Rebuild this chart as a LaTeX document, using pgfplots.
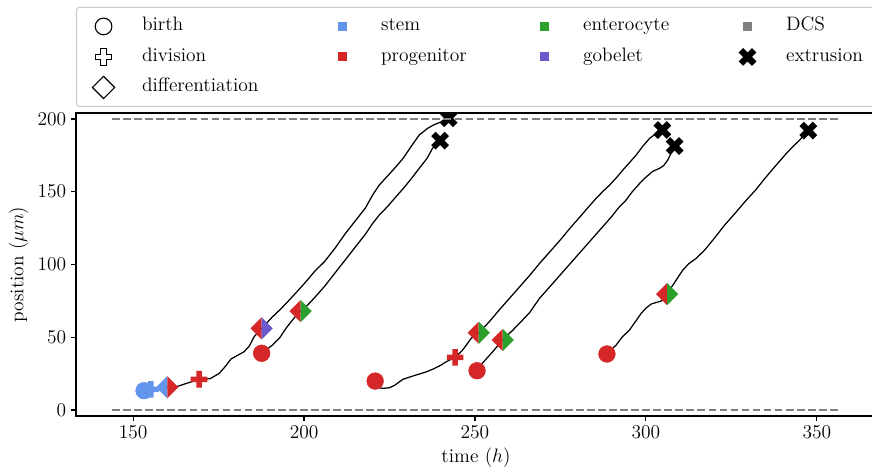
\RequirePackage{fix-cm}
\documentclass[border=0pt]{standalone}
\usepackage{pgfplots}
\pgfplotsset{compat=1.18}
\definecolor{cstem}{RGB}{100,149,237}
\definecolor{cprog}{RGB}{214,39,40}
\definecolor{center}{RGB}{44,160,44}
\definecolor{cgob}{RGB}{106,90,205}
\definecolor{cdcs}{RGB}{128,128,128}
\definecolor{cframe}{RGB}{204,204,204}

\newcommand\plusPath{%
  \pgfmathsetlengthmacro\pw{\pgfplotmarksize/3}%
  \pgfmathsetlengthmacro\ps{\pgfplotmarksize}%
  \pgfpathmoveto{\pgfqpoint{-\pw}{-\ps}}%
  \pgfpathlineto{\pgfqpoint{\pw}{-\ps}}%
  \pgfpathlineto{\pgfqpoint{\pw}{-\pw}}%
  \pgfpathlineto{\pgfqpoint{\ps}{-\pw}}%
  \pgfpathlineto{\pgfqpoint{\ps}{\pw}}%
  \pgfpathlineto{\pgfqpoint{\pw}{\pw}}%
  \pgfpathlineto{\pgfqpoint{\pw}{\ps}}%
  \pgfpathlineto{\pgfqpoint{-\pw}{\ps}}%
  \pgfpathlineto{\pgfqpoint{-\pw}{\pw}}%
  \pgfpathlineto{\pgfqpoint{-\ps}{\pw}}%
  \pgfpathlineto{\pgfqpoint{-\ps}{-\pw}}%
  \pgfpathlineto{\pgfqpoint{-\pw}{-\pw}}%
  \pgfpathclose}
\pgfdeclareplotmark{Pf}{{\plusPath\pgfusepathqfill}}
\pgfdeclareplotmark{Pfs}{{\plusPath\pgfusepathqfillstroke}}
\pgfdeclareplotmark{Xf}{{\pgftransformrotate{45}\plusPath\pgfusepathqfill}}
\pgfdeclareplotmark{ldiam}{{%
  \pgfpathmoveto{\pgfqpoint{0pt}{\pgfplotmarksize}}%
  \pgfpathlineto{\pgfqpoint{-\pgfplotmarksize}{0pt}}%
  \pgfpathlineto{\pgfqpoint{0pt}{-\pgfplotmarksize}}%
  \pgfpathclose\pgfusepathqfill}}
\pgfdeclareplotmark{rdiam}{{%
  \pgfpathmoveto{\pgfqpoint{0pt}{\pgfplotmarksize}}%
  \pgfpathlineto{\pgfqpoint{\pgfplotmarksize}{0pt}}%
  \pgfpathlineto{\pgfqpoint{0pt}{-\pgfplotmarksize}}%
  \pgfpathclose\pgfusepathqfill}}
\pgfdeclareplotmark{Dfs}{{%
  \pgfpathmoveto{\pgfqpoint{0pt}{\pgfplotmarksize}}%
  \pgfpathlineto{\pgfqpoint{-\pgfplotmarksize}{0pt}}%
  \pgfpathlineto{\pgfqpoint{0pt}{-\pgfplotmarksize}}%
  \pgfpathlineto{\pgfqpoint{\pgfplotmarksize}{0pt}}%
  \pgfpathclose\pgfusepathqfillstroke}}

\begin{document}
\begin{tikzpicture}[font=\fontsize{14}{16.8}\selectfont]
\begin{axis}[
  scale only axis, width=576pt, height=218.16pt,
  xmin=133.3, xmax=367.3, ymin=-4.1, ymax=204.1,
  xtick={150,200,250,300,350}, ytick={0,50,100,150,200},
  tick align=outside, xtick pos=bottom, ytick pos=left,
  major tick length=3.5pt,
  every tick/.style={black, line width=0.8pt},
  axis line style={line width=0.8pt},
  tick label style={font=\fontsize{14}{16.8}\selectfont},
  label style={font=\fontsize{14}{16.8}\selectfont},
  xlabel={time ($h$)}, ylabel={position ($\mu m$)},
  clip marker paths=true,
  legend columns=4,
  legend style={
    at={(0,1)}, anchor=south west, yshift=4.32pt,
    draw=cframe, line width=0.8pt, rounded corners=2pt,
    inner xsep=9.36pt, inner ysep=2.7pt,
    column sep=0pt, row sep=0pt,
    cells={anchor=west},
    nodes={inner sep=0pt, text height=14pt, text depth=7.96pt},
    font=\fontsize{14}{16.8}\selectfont,
  },
  legend image code/.code={%
    \path[draw=none, fill=none] (-10.08pt,-5pt) rectangle (27.72pt,5pt);
    \draw[sharp corners,#1] plot coordinates {(0pt,0pt)};
  },
]
% legend (row-wise order of matplotlib's column-wise legend)
\addlegendimage{mark=*, mark size=6pt, mark options={fill=white, draw=black, line width=0.8pt}}
\addlegendentry{\makebox[134.28pt][l]{birth}}
\addlegendimage{mark=square*, mark size=2.8pt, color=cstem}
\addlegendentry{\makebox[107.64pt][l]{stem}}
\addlegendimage{mark=square*, mark size=2.8pt, color=center}
\addlegendentry{\makebox[108.36pt][l]{enterocyte}}
\addlegendimage{mark=square*, mark size=2.8pt, color=cdcs}
\addlegendentry{\makebox[75pt][l]{DCS}}
\addlegendimage{mark=Pfs, mark size=6pt, mark options={fill=white, draw=black, line width=0.8pt}}
\addlegendentry{\makebox[134.28pt][l]{division}}
\addlegendimage{mark=square*, mark size=2.8pt, color=cprog}
\addlegendentry{\makebox[107.64pt][l]{progenitor}}
\addlegendimage{mark=square*, mark size=2.8pt, color=cgob}
\addlegendentry{\makebox[108.36pt][l]{gobelet}}
\addlegendimage{mark=Xf, mark size=6.8pt, color=black}
\addlegendentry{\makebox[75pt][l]{extrusion}}
\addlegendimage{mark=Dfs, mark size=8pt, mark options={fill=white, draw=black, line width=0.8pt}}
\addlegendentry{\makebox[134.28pt][l]{differentiation}}

% trajectories
\addplot[black, line width=0.9pt, forget plot] coordinates {
(153.2,13.3) (155.2,14.2) (160.0,15.6) (163,16.3) (169.3,21.1) (172.5,21.5)
(175.2,25.2) (177,30) (178.6,35.0) (180.5,37.5) (182.5,40.1) (184,44)
(185.4,50.4) (187.6,56.1) (190.8,64.1) (193,69) (195.7,75.6) (198,81.5)
(200.5,88) (203,95) (206,102) (209,111) (212,121) (215,130) (218,139)
(220,147.5) (222,154.6) (224.5,161) (226.9,167.2) (229,173) (231.3,181)
(233.7,189) (236.2,193.6) (238,196) (240.1,198) (242.3,200.5)};
\addplot[black, line width=0.9pt, forget plot] coordinates {
(187.6,39.0) (190.8,44.7) (193,50) (194.7,56.1) (197,63) (199.0,68.0)
(201,72) (203,77) (206,85) (209,94) (212,103) (215,112) (218,121)
(220,128) (222,134) (224.5,140) (226.9,146.6) (229.5,153.5) (231.8,160.3)
(234,167) (236,173) (237.6,179.9) (239.8,185.1)};
\addplot[black, line width=0.9pt, forget plot] coordinates {
(221.5,15.5) (223,14.9) (225,15.3) (226.5,17) (228.9,21.1) (232.8,24.1)
(235.5,26) (237.6,28.0) (239.8,30.5) (241.6,33.2) (244.2,36.2) (246.4,41.2)
(248.9,49.3) (251.1,53.1) (254.2,60.7) (257,68.5) (260,76.5) (263,84.5)
(266,92.5) (268.9,100.8) (272,109) (275,117) (278,125.5) (281,133.5)
(283,139) (285,144.3) (287.3,150) (289.4,154.6) (291.5,160) (293.3,165)
(295.2,170) (297.2,175.3) (299,181) (301.1,186.7) (303,190) (304.8,192.4)};
\addplot[black, line width=0.9pt, forget plot] coordinates {
(250.6,27.0) (252.3,32.5) (255.2,40.1) (258.1,48.1) (261.1,55) (264,62)
(266,67) (268.9,76.8) (272,85) (275,93) (278,101) (281,109) (284,117)
(287,125) (290,133) (292,139) (294.2,144.3) (296,150) (298.2,155.8)
(300,160) (302,164) (304,166.1) (305.2,168) (306.4,171.8) (308.4,181.4)};
\addplot[black, line width=0.9pt, forget plot] coordinates {
(288.6,38.5) (291.3,44.7) (293,50) (295.2,55) (297,61) (298.6,66.4)
(300,70) (301.6,72.9) (304.5,74.9) (306.2,79.7) (307.9,85.9) (310.8,96.2)
(312.5,100.5) (314.7,104.2) (317.2,110) (320,118) (323,127) (326,135)
(329.4,144.3) (332,151) (335.2,160.3) (338,168) (341.1,176.4) (343,181)
(345,185.6) (347.5,192)};

% division markers
\addplot[only marks, mark=Pf, mark size=6pt, color=cstem, forget plot] coordinates {(155.2,14.2)};
\addplot[only marks, mark=Pf, mark size=6pt, color=cprog, forget plot] coordinates {(169.3,21.1) (244.2,36.2)};
% birth markers
\addplot[only marks, mark=*, mark size=6pt, color=cstem, forget plot] coordinates {(153.2,13.3)};
\addplot[only marks, mark=*, mark size=6pt, color=cprog, forget plot] coordinates {(187.6,39.0) (220.8,19.9) (250.6,27.0) (288.6,38.5)};
% differentiation markers (left half: old type, right half: new type)
\addplot[only marks, mark=ldiam, mark size=8pt, color=cstem, forget plot] coordinates {(160.0,15.6)};
\addplot[only marks, mark=rdiam, mark size=8pt, color=cprog, forget plot] coordinates {(160.0,15.6)};
\addplot[only marks, mark=ldiam, mark size=8pt, color=cprog, forget plot] coordinates {(187.6,56.1) (199.0,68.0) (251.1,53.1) (258.1,48.1) (306.2,79.7)};
\addplot[only marks, mark=rdiam, mark size=8pt, color=cgob, forget plot] coordinates {(187.6,56.1)};
\addplot[only marks, mark=rdiam, mark size=8pt, color=center, forget plot] coordinates {(199.0,68.0) (251.1,53.1) (258.1,48.1) (306.2,79.7)};
% extrusion markers
\addplot[only marks, mark=Xf, mark size=6.8pt, color=black, forget plot] coordinates {(242.3,200.5) (239.8,185.1) (304.8,192.4) (308.4,181.4) (347.5,192.0)};

% boundaries
\addplot[cdcs, line width=1.5pt, dash pattern=on 5.55pt off 2.4pt, forget plot] coordinates {(143.9,0) (356.7,0)};
\addplot[cdcs, line width=1.5pt, dash pattern=on 5.55pt off 2.4pt, forget plot] coordinates {(143.9,200) (356.7,200)};
\end{axis}
\pgfresetboundingbox
\path[use as bounding box] (-54.72pt,-41.76pt) rectangle (573.12pt,299.52pt);
\end{tikzpicture}
\end{document}
